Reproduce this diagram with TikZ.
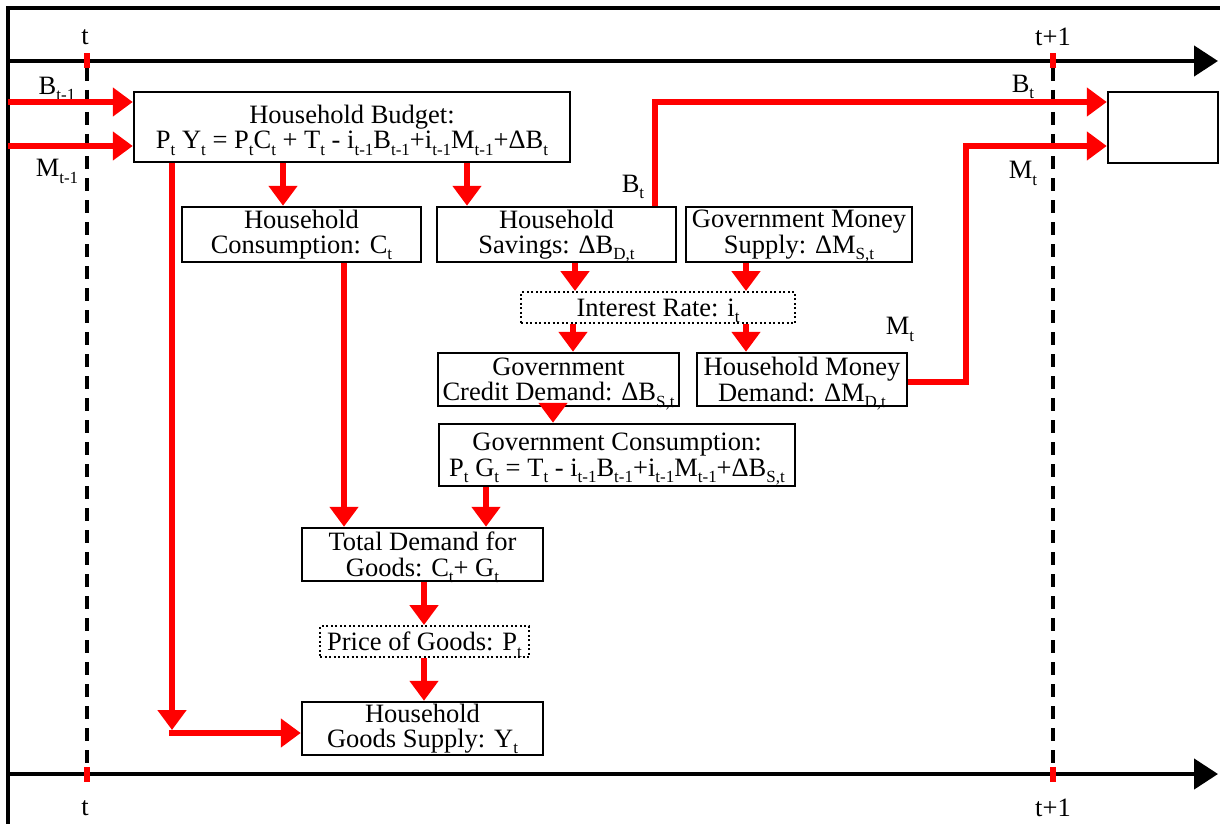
\documentclass[tikz,border=0pt]{standalone}
\usepackage{fontspec}
\setmainfont{Liberation Serif}
\usetikzlibrary{arrows.meta}
\newcommand\sbx[1]{\raisebox{-0.24em}[0pt][0pt]{\fontsize{17}{17}\selectfont #1}}
\begin{document}
\begin{tikzpicture}[x=1pt,y=-1pt,
  box/.style={draw=black,line width=2.5pt,align=center,inner sep=0pt,font=\fontsize{26.5}{25.5}\selectfont},
  dbox/.style={box,line width=2pt,dash pattern=on 2pt off 2.5pt},
  lbl/.style={font=\fontsize{26.5}{26.5}\selectfont,inner sep=0pt},
  ra/.style={draw=red,line width=6pt,-{Triangle[length=20pt,width=28pt]}},
  tl/.style={draw=black,line width=4.5pt,-{Triangle[length=24pt,width=30pt]}},
  dl/.style={draw=black,line width=3.5pt,dash pattern=on 13pt off 9pt},
  tick/.style={fill=red,minimum width=6pt,minimum height=15pt,inner sep=0pt}
]
\useasboundingbox (0,0) rectangle (1220,824);
% frame
\coordinate (fTL) at (8,8);
\coordinate (fTR) at (1222,8);
\coordinate (fBL) at (8,826);
\draw[line width=4pt] (fTR) -- (fTL) -- (fBL);
% timelines
\coordinate (tS) at (8,61);
\coordinate (tE) at (1218,61);
\coordinate (bS) at (8,774);
\coordinate (bE) at (1218,774);
\draw[tl] (tS) -- (tE);
\draw[tl] (bS) -- (bE);
% dashed period lines
\coordinate (d1a) at (87,68);
\coordinate (d1b) at (87,782);
\coordinate (d2a) at (1053,68);
\coordinate (d2b) at (1053,782);
\draw[dl] (d1a) -- (d1b);
\draw[dl] (d2a) -- (d2b);
\node[tick] (tk1) at (87,61) {};
\node[tick] (tk2) at (1053,61) {};
\node[tick] (tk3) at (87,774) {};
\node[tick] (tk4) at (1053,774) {};
\node[lbl] (lt1) at (85,37) {t};
\node[lbl] (lt2) at (1053,37) {t+1};
\node[lbl] (lt3) at (85,808) {t};
\node[lbl] (lt4) at (1053,808) {t+1};

% boxes
\node[box,minimum width=436pt,minimum height=70pt] (budget) at (352,127)
  {Household Budget:\\P\sbx{t} Y\sbx{t} = P\sbx{t}C\sbx{t} + T\sbx{t} - i\sbx{t-1}B\sbx{t-1}+i\sbx{t-1}M\sbx{t-1}+ΔB\sbx{t}};
\node[box,minimum width=110pt,minimum height=71pt] (endbox) at (1163,127.5) {};
\node[box,minimum width=239pt,minimum height=55pt] (cons) at (301.5,234.5)
  {Household\\Consumption: C\sbx{t}};
\node[box,minimum width=239pt,minimum height=55pt] (sav) at (556.5,234.5)
  {Household\\Savings: ΔB\sbx{D,t}};
\node[box,minimum width=226pt,minimum height=55pt] (gms) at (799,234.5)
  {Government Money\\Supply: ΔM\sbx{S,t}};
\node[dbox,minimum width=274pt,minimum height=31pt] (ir) at (658,307.5)
  {Interest Rate: i\sbx{t}};
\node[box,minimum width=241pt,minimum height=53pt] (gcd) at (558.5,379.5)
  {Government\\Credit Demand: ΔB\sbx{S,t}};
\node[box,minimum width=210pt,minimum height=53pt] (hmd) at (802,379.5)
  {Household Money\\Demand: ΔM\sbx{D,t}};
\node[box,minimum width=356pt,minimum height=62pt] (gc) at (617,455)
  {Government Consumption:\\P\sbx{t} G\sbx{t} = T\sbx{t} - i\sbx{t-1}B\sbx{t-1}+i\sbx{t-1}M\sbx{t-1}+ΔB\sbx{S,t}};
\node[box,minimum width=241pt,minimum height=53pt] (td) at (422.5,554.5)
  {Total Demand for\\Goods: C\sbx{t}+ G\sbx{t}};
\node[dbox,minimum width=209pt,minimum height=31pt] (pg) at (424.5,641.5)
  {Price of Goods: P\sbx{t}};
\node[box,minimum width=241pt,minimum height=53pt] (gs) at (422.5,728.5)
  {Household\\Goods Supply: Y\sbx{t}};

% labels
\node[lbl] (lBt1) at (57,86) {B\sbx{t-1}};
\node[lbl] (lMt1) at (57,168) {M\sbx{t-1}};
\node[lbl] (lBt) at (633,184) {B\sbx{t}};
\node[lbl] (lBt2) at (1023,84) {B\sbx{t}};
\node[lbl] (lMt) at (900,326) {M\sbx{t}};
\node[lbl] (lMt2) at (1023,170) {M\sbx{t}};

% incoming stocks
\coordinate (inB) at (8,102);
\coordinate (inM) at (8,146);
\draw[ra] (inB) -- (budget.west |- inB);
\draw[ra] (inM) -- (budget.west |- inM);
% budget flows
\draw[ra] (budget.south -| 283,0) -- (cons.north -| 283,0);
\draw[ra] (budget.south -| 467,0) -- (sav.north -| 467,0);
\coordinate (cornerL) at (172,733);
\draw[ra] (budget.south -| cornerL) -- ([yshift=3pt]cornerL);
\draw[ra] ([xshift=-3pt]cornerL) -- (gs.west |- cornerL);
% outgoing stocks
\coordinate (bTurn) at (655,102);
\draw[ra] (sav.north -| bTurn) -- (bTurn) -- (endbox.west |- bTurn);
\coordinate (mTurn1) at (966,382);
\coordinate (mTurn2) at (966,146);
\draw[ra] (hmd.east |- mTurn1) -- (mTurn1) -- (mTurn2) -- (endbox.west |- mTurn2);
% middle flows
\draw[ra] (sav.south -| 575,0) -- (ir.north -| 575,0);
\draw[ra] (gms.south -| 746,0) -- (ir.north -| 746,0);
\draw[ra] (ir.south -| 573,0) -- (gcd.north -| 573,0);
\draw[ra] (ir.south -| 746,0) -- (hmd.north -| 746,0);
\draw[ra] (gcd.south -| 553,0) -- (gc.north -| 553,0);
\draw[ra] (cons.south -| 344,0) -- (td.north -| 344,0);
\draw[ra] (gc.south -| 486,0) -- (td.north -| 486,0);
\draw[ra] (td.south -| 424,0) -- (pg.north -| 424,0);
\draw[ra] (pg.south -| 424,0) -- (gs.north -| 424,0);
\end{tikzpicture}
\end{document}
